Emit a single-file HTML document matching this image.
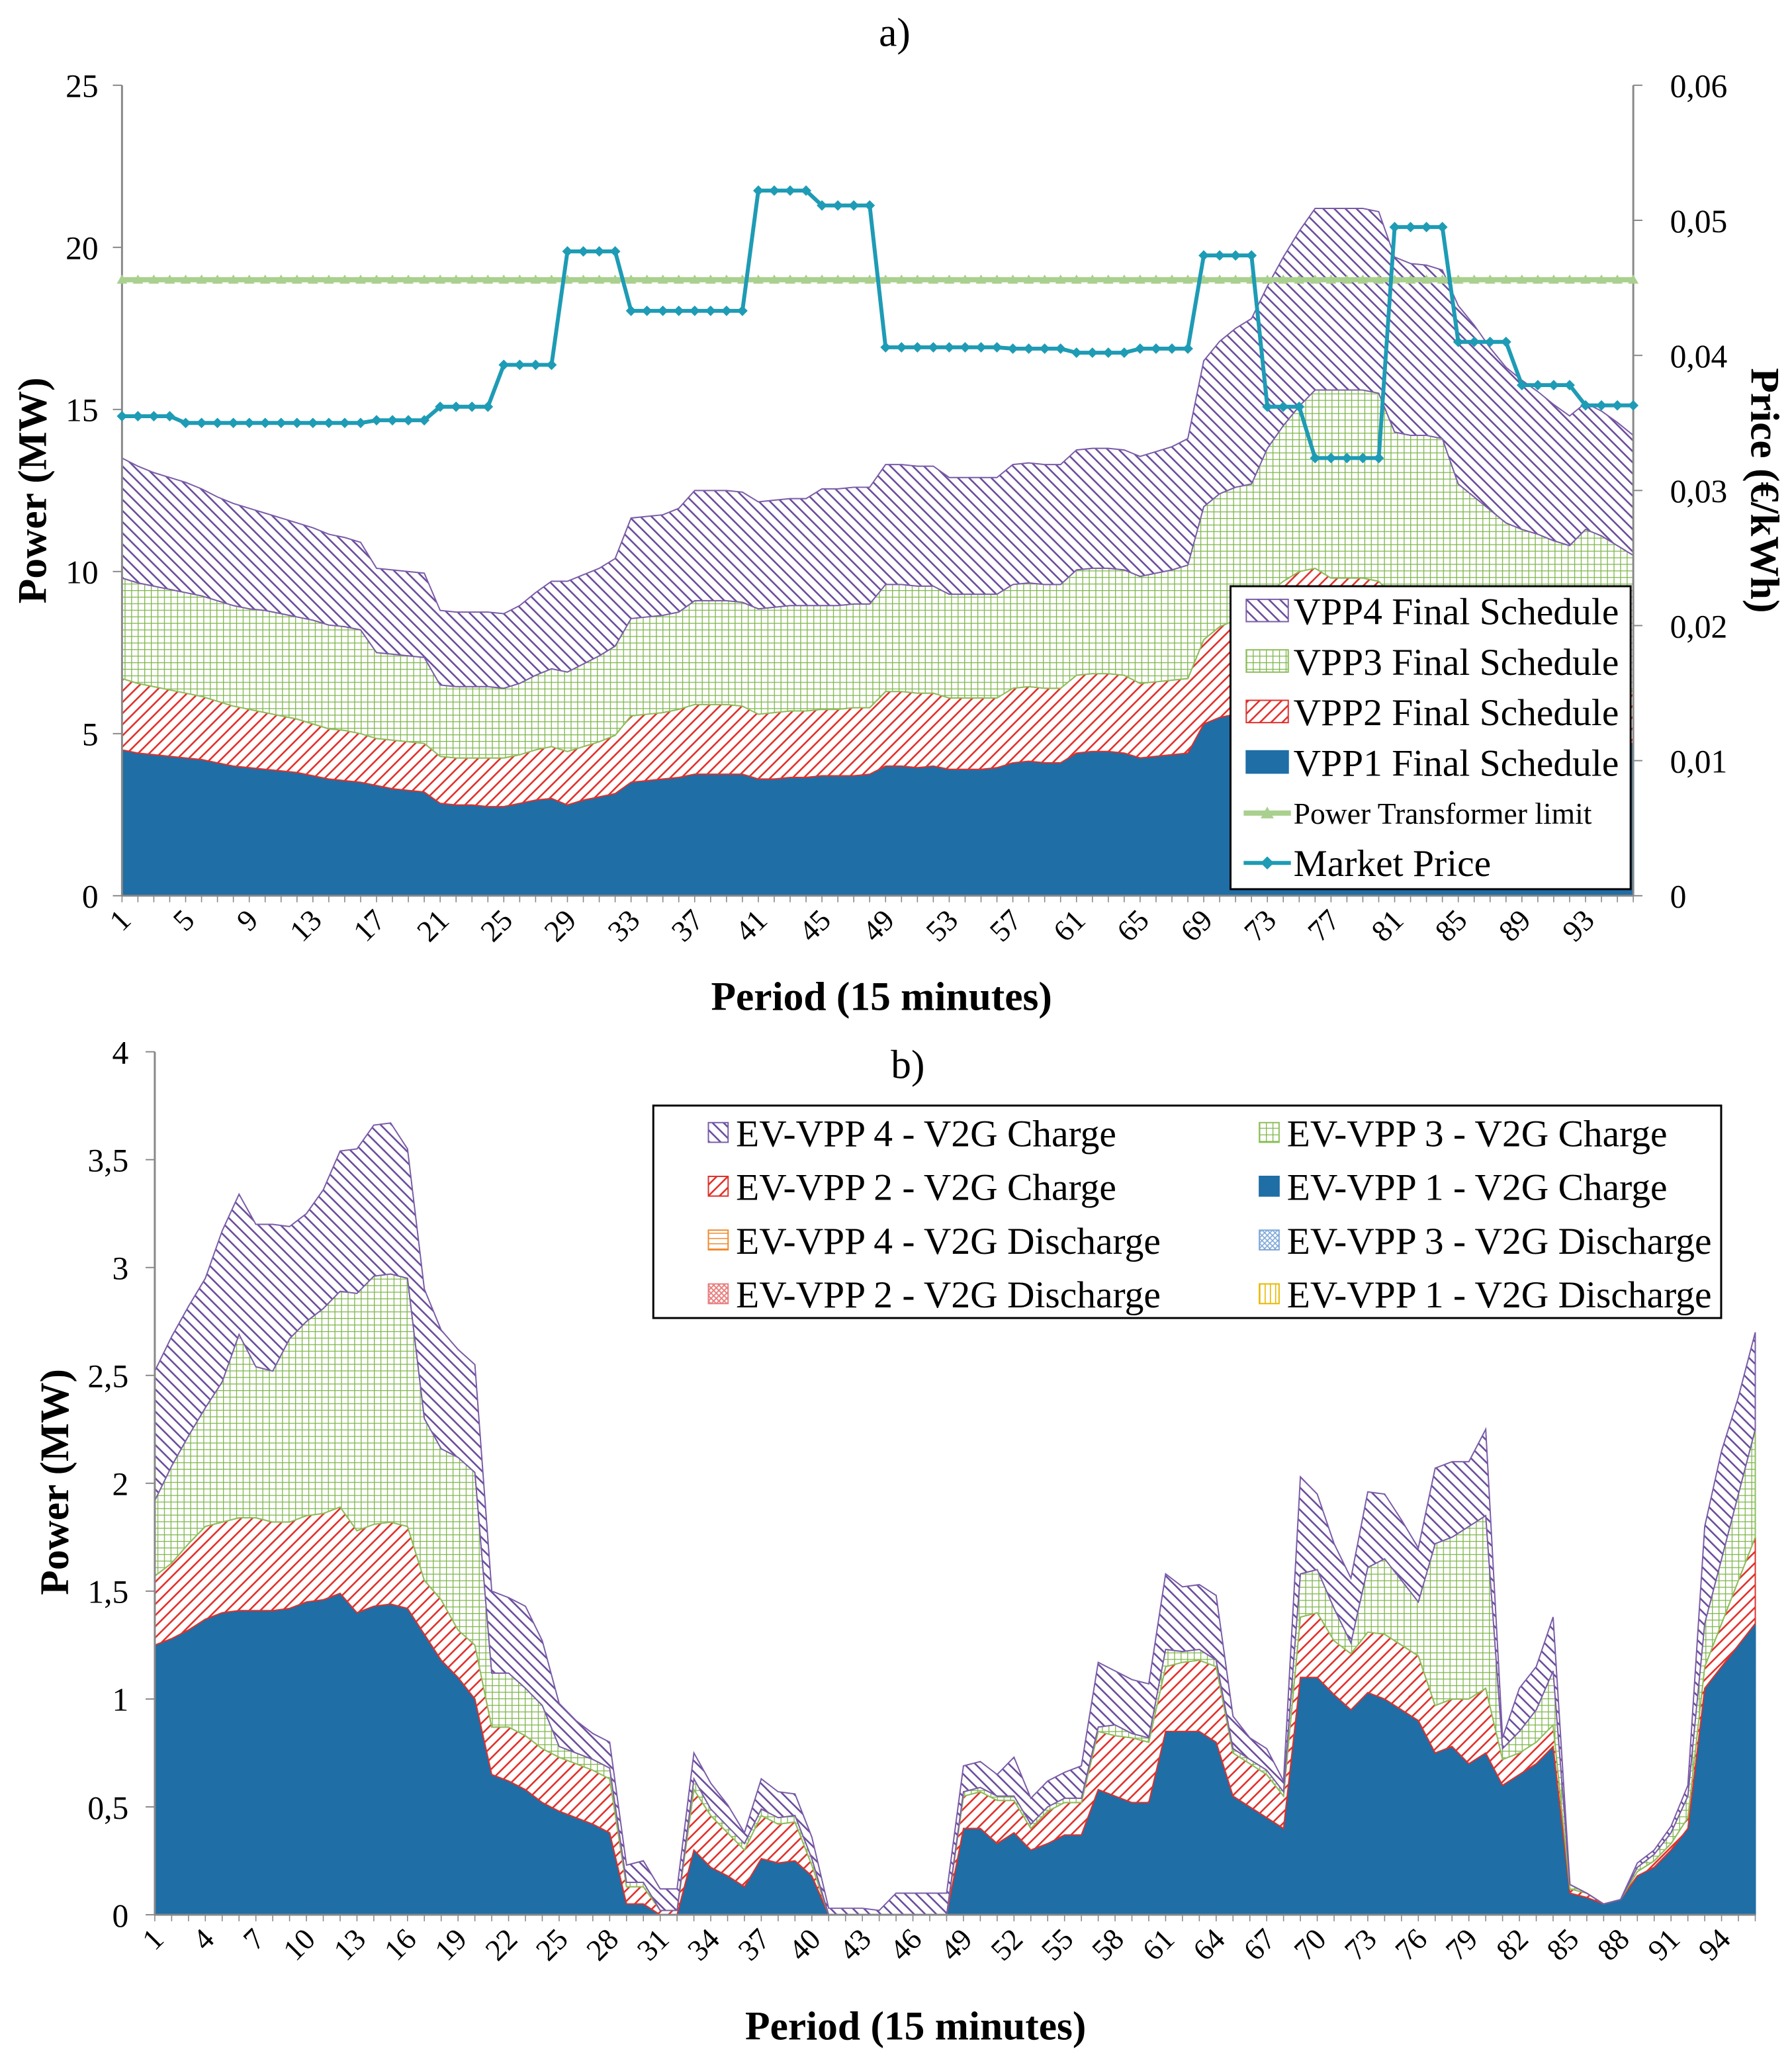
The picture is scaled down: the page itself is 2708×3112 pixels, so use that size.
<!DOCTYPE html>
<html><head><meta charset="utf-8">
<style>
html,body{margin:0;padding:0;background:#fff;}
svg{display:block;font-family:"Liberation Serif",serif;}
</style></head>
<body>
<svg id="chart" width="2708" height="3112" viewBox="0 0 1366 1570" preserveAspectRatio="none" xmlns="http://www.w3.org/2000/svg">
<defs>
<pattern id="pPurple" patternUnits="userSpaceOnUse" width="6" height="6" patternTransform="rotate(-45)"><rect width="6" height="6" fill="#fff"/><line x1="0" y1="0" x2="0" y2="6" stroke="#6a4c9c" stroke-width="2.6"/></pattern>
<pattern id="pRed" patternUnits="userSpaceOnUse" width="6" height="6" patternTransform="rotate(45)"><rect width="6" height="6" fill="#fff"/><line x1="0" y1="0" x2="0" y2="6" stroke="#e0302a" stroke-width="2.6"/></pattern>
<pattern id="pGreen" patternUnits="userSpaceOnUse" width="5" height="5"><rect width="5" height="5" fill="#fff"/><path d="M0 0H5M0 0V5" stroke="#7cb548" stroke-width="1.3"/></pattern>
<pattern id="pOrange" patternUnits="userSpaceOnUse" width="4" height="4"><rect width="4" height="4" fill="#fff"/><path d="M0 0H4" stroke="#f08a2c" stroke-width="1.5"/></pattern>
<pattern id="pBlue" patternUnits="userSpaceOnUse" width="4" height="4"><rect width="4" height="4" fill="#fff"/><path d="M0 0L4 4M4 0L0 4" stroke="#7fa8d8" stroke-width="0.8"/></pattern>
<pattern id="pPink" patternUnits="userSpaceOnUse" width="4" height="4"><rect width="4" height="4" fill="#fff"/><path d="M0 0L4 4M4 0L0 4" stroke="#e88080" stroke-width="1"/></pattern>
<pattern id="pYellow" patternUnits="userSpaceOnUse" width="4" height="4"><rect width="4" height="4" fill="#fff"/><path d="M0 0V4" stroke="#e8b800" stroke-width="1.6"/></pattern>
</defs>
<g id="ga"></g>
<g id="gb"></g>
</svg>
<script>
// ---------- Chart a data ----------
const periodsA = Array.from({length:96},(_,i)=>i+1);
const vpp1 = [4.5,4.4,4.35,4.3,4.25,4.2,4.1,4.0,3.95,3.9,3.85,3.8,3.7,3.6,3.55,3.5,3.4,3.3,3.25,3.2,2.85,2.8,2.8,2.75,2.75,2.85,2.95,3.0,2.8,2.95,3.05,3.15,3.5,3.55,3.6,3.65,3.75,3.75,3.75,3.75,3.6,3.6,3.65,3.65,3.7,3.7,3.7,3.75,4.0,4.0,3.95,4.0,3.9,3.9,3.9,3.95,4.1,4.15,4.1,4.1,4.4,4.45,4.45,4.4,4.25,4.3,4.35,4.4,5.3,5.5,5.6,5.7,5.9,6.0,6.1,6.2,6.2,6.2,6.2,6.1,5.9,5.8,5.8,5.7,5.5,5.4,5.3,5.2,5.1,5.0,4.9,4.8,4.9,4.8,4.75,4.7];
const vpp2 = [2.2,2.15,2.1,2.05,2.0,1.95,1.9,1.85,1.8,1.75,1.7,1.65,1.6,1.55,1.55,1.5,1.45,1.5,1.5,1.5,1.45,1.45,1.45,1.5,1.5,1.5,1.55,1.6,1.65,1.65,1.7,1.8,2.05,2.05,2.05,2.1,2.15,2.15,2.15,2.1,2.0,2.05,2.05,2.05,2.05,2.05,2.1,2.05,2.3,2.3,2.3,2.25,2.2,2.2,2.2,2.15,2.3,2.3,2.3,2.3,2.4,2.4,2.4,2.4,2.3,2.3,2.3,2.3,2.6,2.8,2.9,2.9,3.4,3.7,3.9,3.9,3.6,3.6,3.6,3.6,3.3,3.2,3.1,3.0,2.6,2.5,2.4,2.3,2.2,2.1,2.0,1.9,1.8,1.8,1.7,1.6];
const vpp3 = [3.1,3.1,3.1,3.1,3.1,3.1,3.1,3.1,3.1,3.15,3.15,3.15,3.2,3.2,3.2,3.2,2.65,2.65,2.65,2.65,2.2,2.2,2.2,2.2,2.15,2.2,2.3,2.4,2.45,2.55,2.65,2.75,3.0,3.0,3.0,3.0,3.2,3.2,3.2,3.2,3.25,3.25,3.25,3.25,3.2,3.2,3.2,3.2,3.3,3.3,3.3,3.3,3.2,3.2,3.2,3.2,3.2,3.2,3.2,3.2,3.25,3.25,3.25,3.25,3.3,3.35,3.4,3.5,4.1,4.1,4.1,4.1,4.5,4.8,5.1,5.5,5.8,5.8,5.8,5.8,5.1,5.2,5.3,5.4,4.6,4.4,4.2,4.0,4.0,4.05,4.05,4.1,4.6,4.5,4.35,4.2];
const vpp4 = [3.7,3.6,3.5,3.45,3.4,3.3,3.2,3.15,3.1,3.0,2.95,2.9,2.85,2.8,2.75,2.7,2.6,2.6,2.6,2.6,2.3,2.3,2.3,2.3,2.3,2.4,2.55,2.7,2.8,2.75,2.7,2.7,3.1,3.1,3.1,3.2,3.4,3.4,3.4,3.4,3.3,3.3,3.3,3.3,3.6,3.6,3.6,3.6,3.7,3.7,3.7,3.7,3.6,3.6,3.6,3.6,3.7,3.7,3.7,3.7,3.7,3.7,3.7,3.7,3.7,3.75,3.8,3.9,4.5,4.7,4.9,5.1,5.0,5.2,5.4,5.6,5.6,5.6,5.6,5.6,5.4,5.3,5.25,5.2,5.5,5.3,5.0,4.8,4.6,4.4,4.2,4.0,3.9,3.85,3.8,3.7];
const price = [0.0355,0.0355,0.0355,0.0355,0.035,0.035,0.035,0.035,0.035,0.035,0.035,0.035,0.035,0.035,0.035,0.035,0.0352,0.0352,0.0352,0.0352,0.0362,0.0362,0.0362,0.0362,0.0393,0.0393,0.0393,0.0393,0.0477,0.0477,0.0477,0.0477,0.0433,0.0433,0.0433,0.0433,0.0433,0.0433,0.0433,0.0433,0.0522,0.0522,0.0522,0.0522,0.0511,0.0511,0.0511,0.0511,0.0406,0.0406,0.0406,0.0406,0.0406,0.0406,0.0406,0.0406,0.0405,0.0405,0.0405,0.0405,0.0402,0.0402,0.0402,0.0402,0.0405,0.0405,0.0405,0.0405,0.0474,0.0474,0.0474,0.0474,0.0362,0.0362,0.0362,0.0324,0.0324,0.0324,0.0324,0.0324,0.0495,0.0495,0.0495,0.0495,0.041,0.041,0.041,0.041,0.0378,0.0378,0.0378,0.0378,0.0363,0.0363,0.0363,0.0363];
const limitVal = 19.0;
const yTicksA = [0,5,10,15,20,25];
const y2TicksA = ["0","0,01","0,02","0,03","0,04","0,05","0,06"];

// ---------- Chart b data ----------
const ev1 = [1.25,1.28,1.32,1.37,1.4,1.41,1.41,1.41,1.42,1.45,1.46,1.49,1.4,1.43,1.44,1.42,1.3,1.18,1.1,1.0,0.65,0.62,0.58,0.52,0.48,0.45,0.42,0.38,0.05,0.05,0,0,0.3,0.22,0.18,0.13,0.26,0.24,0.25,0.18,0,0,0,0,0,0,0,0,0.4,0.4,0.33,0.38,0.3,0.33,0.37,0.37,0.58,0.55,0.52,0.52,0.85,0.85,0.85,0.8,0.55,0.5,0.45,0.4,1.1,1.1,1.02,0.95,1.03,1.0,0.95,0.9,0.75,0.78,0.7,0.75,0.6,0.65,0.7,0.78,0.1,0.08,0.05,0.07,0.18,0.22,0.3,0.4,1.05,1.15,1.25,1.35];
const ev2 = [0.32,0.35,0.4,0.43,0.42,0.43,0.43,0.41,0.4,0.4,0.4,0.4,0.38,0.38,0.38,0.38,0.25,0.28,0.22,0.25,0.22,0.25,0.25,0.25,0.25,0.25,0.25,0.25,0.08,0.08,0.02,0.02,0.28,0.24,0.2,0.17,0.2,0.18,0.18,0.05,0,0,0,0,0,0,0,0,0.15,0.17,0.2,0.15,0.1,0.15,0.15,0.15,0.27,0.28,0.3,0.28,0.3,0.32,0.33,0.35,0.2,0.2,0.2,0.15,0.28,0.3,0.25,0.26,0.28,0.3,0.3,0.3,0.22,0.22,0.3,0.3,0.12,0.1,0.1,0.1,0.02,0.02,0,0,0.02,0.03,0.03,0.05,0.1,0.2,0.3,0.4];
const ev3 = [0.35,0.45,0.5,0.55,0.65,0.85,0.7,0.7,0.85,0.9,0.95,1.0,1.1,1.15,1.15,1.15,0.75,0.7,0.8,0.8,0.25,0.25,0.22,0.2,0.05,0.05,0.05,0.05,0.02,0.02,0,0,0.05,0.03,0.03,0.03,0.03,0.03,0.03,0.03,0,0,0,0,0,0,0,0,0.02,0.02,0.02,0.02,0.02,0.02,0.02,0.02,0.02,0.05,0.02,0.02,0.08,0.05,0.05,0.03,0.02,0.02,0.02,0.02,0.2,0.2,0.15,0.05,0.3,0.35,0.3,0.25,0.75,0.75,0.8,0.8,0.05,0.1,0.15,0.25,0.02,0,0,0,0.02,0.03,0.05,0.1,0.2,0.3,0.4,0.5];
const ev4 = [0.6,0.6,0.6,0.6,0.7,0.65,0.66,0.68,0.52,0.5,0.55,0.65,0.67,0.7,0.7,0.6,0.6,0.55,0.5,0.5,0.38,0.35,0.38,0.3,0.2,0.15,0.12,0.12,0.08,0.1,0.1,0.1,0.12,0.12,0.1,0.05,0.14,0.12,0.1,0.1,0.03,0.03,0.03,0.02,0.1,0.1,0.1,0.1,0.12,0.12,0.1,0.18,0.12,0.12,0.12,0.15,0.3,0.25,0.25,0.25,0.35,0.3,0.3,0.3,0.15,0.1,0.1,0.05,0.45,0.35,0.3,0.3,0.35,0.3,0.28,0.25,0.35,0.35,0.3,0.4,0.05,0.2,0.2,0.25,0,0,0,0,0.02,0.02,0.03,0.05,0.45,0.5,0.45,0.45];
const yTicksB = [0,0.5,1,1.5,2,2.5,3,3.5,4];

const NS="http://www.w3.org/2000/svg";
function mk(parent,tag,attrs,text){const e=document.createElementNS(NS,tag);for(const k in attrs)e.setAttribute(k,attrs[k]);if(text!==undefined)e.textContent=text;parent.appendChild(e);return e;}
const fmt=v=>String(v).replace('.',',');

function stackArea(g,series,fills,xf,yf,names){
  let base=new Array(series[0].length).fill(0);
  series.forEach((s,si)=>{
    const top=base.map((b,i)=>b+s[i]);
    let d="M"+xf(1)+","+yf(base[0]);
    top.forEach((v,i)=>{d+=" L"+xf(i+1)+","+yf(v);});
    for(let i=base.length-1;i>=0;i--)d+=" L"+xf(i+1)+","+yf(base[i]);
    d+="Z";
    const p=mk(g,"path",{d:d,fill:fills[si][0],stroke:fills[si][1],"stroke-width":1});
    
    
    base=top;
  });
}

// ---------- Chart a ----------
(function(){
  const g=document.getElementById("ga");
  const X0=93,X1=1245,Y0=683,Y1=65;
  const xf=i=>X0+(i-1)*(X1-X0)/95;
  const yf=v=>Y0-v*(Y0-Y1)/25;
  const y2f=v=>Y0-v*(Y0-Y1)/0.06;
  mk(g,"text",{x:682,y:35,"font-size":31,"text-anchor":"middle",},"a)");
  stackArea(g,[vpp1,vpp2,vpp3,vpp4],[["#1f6ea6","#1f6ea6"],["url(#pRed)","#e0302a"],["url(#pGreen)","#8cbf5a"],["url(#pPurple)","#7a5ca8"]],xf,yf,["area-vpp1","area-vpp2","area-vpp3","area-vpp4"]);
  mk(g,"line",{x1:X0,y1:Y1,x2:X0,y2:Y0,stroke:"#888","stroke-width":1.5,});
  mk(g,"line",{x1:X1,y1:Y1,x2:X1,y2:Y0,stroke:"#888","stroke-width":1.5,});
  mk(g,"line",{x1:X0,y1:Y0,x2:X1,y2:Y0,stroke:"#888","stroke-width":1.5,});
  yTicksA.forEach(v=>{
    mk(g,"line",{x1:X0-7,y1:yf(v),x2:X0,y2:yf(v),stroke:"#888"});
    const t=mk(g,"text",{x:X0-18,y:yf(v)+9,"font-size":25,"text-anchor":"end"},String(v));
    
    
  });
  y2TicksA.forEach((s,i)=>{
    const v=i*0.01;
    mk(g,"line",{x1:X1,y1:y2f(v),x2:X1+7,y2:y2f(v),stroke:"#888"});
    const t=mk(g,"text",{x:X1+28,y:y2f(v)+9,"font-size":25},s);
    
    
  });
  periodsA.forEach(p=>{
    mk(g,"line",{x1:xf(p),y1:Y0,x2:xf(p),y2:Y0+5,stroke:"#888","stroke-width":0.8});
    if((p-1)%4===0){
      const t=mk(g,"text",{transform:`translate(${xf(p)+8},${Y0+20}) rotate(-45)`,"font-size":23,"text-anchor":"end"},String(p));
      
      
    }
  });
  let dl="";periodsA.forEach((p,i)=>{dl+=(i?"L":"M")+xf(p)+","+yf(limitVal);});
  mk(g,"path",{d:dl,stroke:"#a9d08e",fill:"none","stroke-width":4,});
  periodsA.forEach(p=>{const m=mk(g,"path",{d:`M${xf(p)-4},${yf(limitVal)+3} L${xf(p)},${yf(limitVal)-4} L${xf(p)+4},${yf(limitVal)+3}Z`,fill:"#a9d08e"});
    
    });
  let dp="";price.forEach((v,i)=>{dp+=(i?"L":"M")+xf(i+1)+","+y2f(v);});
  mk(g,"path",{d:dp,stroke:"#1e9bb5",fill:"none","stroke-width":3,});
  price.forEach((v,i)=>{const m=mk(g,"path",{d:`M${xf(i+1)},${y2f(v)-4} L${xf(i+1)+4},${y2f(v)} L${xf(i+1)},${y2f(v)+4} L${xf(i+1)-4},${y2f(v)}Z`,fill:"#1e9bb5"});
    
    });
  mk(g,"text",{transform:"translate(35,374) rotate(-90)","font-size":31,"font-weight":"bold","text-anchor":"middle",},"Power (MW)");
  mk(g,"text",{transform:"translate(1335,374) rotate(90)","font-size":31,"font-weight":"bold","text-anchor":"middle",},"Price (€/kWh)");
  mk(g,"text",{x:672,y:770,"font-size":31,"font-weight":"bold","text-anchor":"middle",},"Period (15 minutes)");
  const lg=mk(g,"g",{});
  mk(lg,"rect",{x:938,y:447,width:305,height:231,fill:"#fff",stroke:"#000","stroke-width":1.5});
  const items=[["VPP4 Final Schedule","url(#pPurple)","#7a5ca8"],["VPP3 Final Schedule","url(#pGreen)","#8cbf5a"],["VPP2 Final Schedule","url(#pRed)","#e0302a"],["VPP1 Final Schedule","#1f6ea6","#1f6ea6"]];
  items.forEach((it,i)=>{const y=466+i*38.5;
    const r=mk(lg,"rect",{x:950,y:y-9,width:32,height:17,fill:it[1],stroke:it[2]});
    
    
    mk(lg,"text",{x:986,y:y+10,"font-size":29},it[0]);});
  mk(lg,"line",{x1:948,y1:620,x2:984,y2:620,stroke:"#a9d08e","stroke-width":4});
  mk(lg,"path",{d:"M961,624 L966,615 L971,624Z",fill:"#a9d08e"});
  mk(lg,"text",{x:986,y:628,"font-size":23},"Power Transformer limit");
  mk(lg,"line",{x1:948,y1:658,x2:984,y2:658,stroke:"#1e9bb5","stroke-width":3});
  mk(lg,"path",{d:"M966,653 L971,658 L966,663 L961,658Z",fill:"#1e9bb5"});
  mk(lg,"text",{x:986,y:668,"font-size":29},"Market Price");
})();

// ---------- Chart b ----------
(function(){
  const g=document.getElementById("gb");
  const X0=118,X1=1338,Y0=1460,Y1=802;
  const xf=i=>X0+(i-1)*(X1-X0)/95;
  const yf=v=>Y0-v*(Y0-Y1)/4;
  mk(g,"text",{x:692,y:822,"font-size":31,"text-anchor":"middle",},"b)");
  stackArea(g,[ev1,ev2,ev3,ev4],[["#1f6ea6","#1f6ea6"],["url(#pRed)","#e0302a"],["url(#pGreen)","#8cbf5a"],["url(#pPurple)","#7a5ca8"]],xf,yf,["area-ev1-charge","area-ev2-charge","area-ev3-charge","area-ev4-charge"]);
  mk(g,"line",{x1:X0,y1:Y1,x2:X0,y2:Y0,stroke:"#888","stroke-width":1.5,});
  mk(g,"line",{x1:X0,y1:Y0,x2:X1,y2:Y0,stroke:"#888","stroke-width":1.5,});
  yTicksB.forEach(v=>{
    mk(g,"line",{x1:X0-7,y1:yf(v),x2:X0,y2:yf(v),stroke:"#888"});
    const t=mk(g,"text",{x:X0-20,y:yf(v)+9,"font-size":25,"text-anchor":"end"},fmt(v));
    
    
  });
  for(let p=1;p<=96;p++){
    mk(g,"line",{x1:xf(p),y1:Y0,x2:xf(p),y2:Y0+5,stroke:"#888","stroke-width":0.8});
    if((p-1)%3===0){
      const t=mk(g,"text",{transform:`translate(${xf(p)+8},${Y0+20}) rotate(-45)`,"font-size":23,"text-anchor":"end"},String(p));
      
      
    }
  }
  mk(g,"text",{transform:"translate(52,1130) rotate(-90)","font-size":31,"font-weight":"bold","text-anchor":"middle",},"Power (MW)");
  mk(g,"text",{x:698,y:1555,"font-size":31,"font-weight":"bold","text-anchor":"middle",},"Period (15 minutes)");
  const lg=mk(g,"g",{});
  mk(lg,"rect",{x:498,y:843,width:814,height:162,fill:"#fff",stroke:"#000","stroke-width":1.5});
  const items=[["EV-VPP 4 - V2G Charge","url(#pPurple)","#7a5ca8",540,864],["EV-VPP 3 - V2G Charge","url(#pGreen)","#8cbf5a",960,864],
    ["EV-VPP 2 - V2G Charge","url(#pRed)","#e0302a",540,905],["EV-VPP 1 - V2G Charge","#1f6ea6","#1f6ea6",960,905],
    ["EV-VPP 4 - V2G Discharge","url(#pOrange)","#f08a2c",540,946],["EV-VPP 3 - V2G Discharge","url(#pBlue)","#7fa8d8",960,946],
    ["EV-VPP 2 - V2G Discharge","url(#pPink)","#e88080",540,987],["EV-VPP 1 - V2G Discharge","url(#pYellow)","#e8b800",960,987]];
  items.forEach(it=>{
    const r=mk(lg,"rect",{x:it[3],y:it[4]-8,width:15,height:15,fill:it[1],stroke:it[2]});
    
    
    mk(lg,"text",{x:it[3]+21,y:it[4]+10,"font-size":29},it[0]);
  });
})();
</script>
</body></html>
